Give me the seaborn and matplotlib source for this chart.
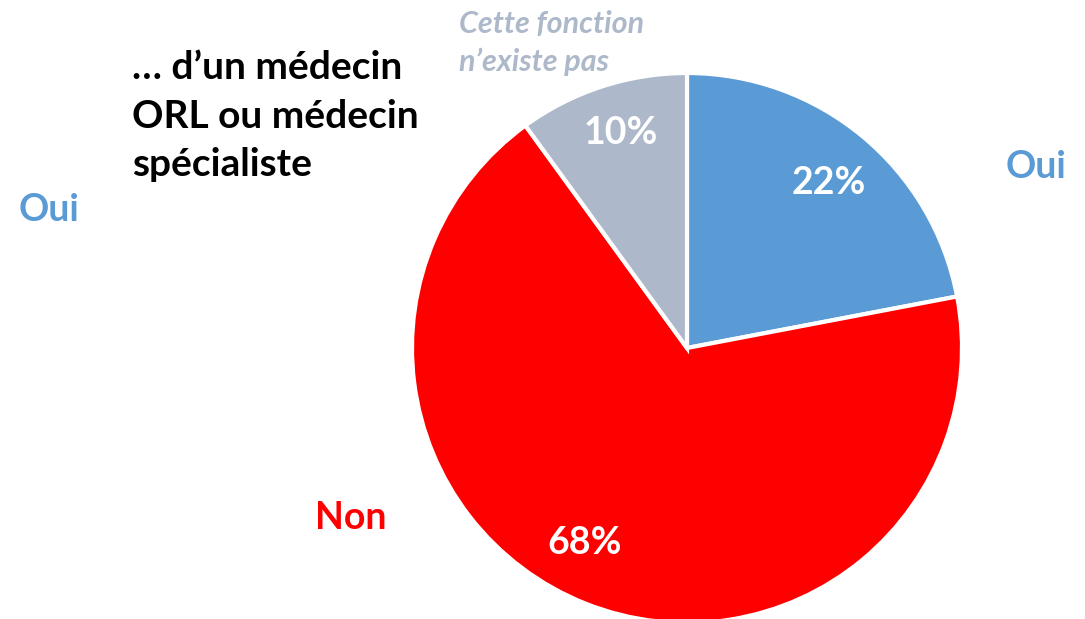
import matplotlib
matplotlib.use("Agg")
import matplotlib.pyplot as plt
import matplotlib.patches as mpatches
import seaborn as sns

categories = ["Oui", "Non", "Cette fonction\nn\u2019existe pas"]
values = [22, 68, 10]
pct_labels = ["22%", "68%", "10%"]
colors = ["#5B9BD5", "#FF0000", "#ADB9CA"]
title = "\u2026 d\u2019un m\u00e9decin\nORL ou m\u00e9decin\nsp\u00e9cialiste"

sns.set_theme(style="white")
plt.rcParams["font.family"] = ["Lato", "DejaVu Sans"]

W, H = 1085, 619
fig = plt.figure(figsize=(W / 100, H / 100), dpi=100)
ax = fig.add_axes([0, 0, 1, 1])

cx, cy, r = 687, 348, 275
wedges, _ = ax.pie(values, colors=colors, startangle=90, counterclock=False,
                   center=(cx, cy), radius=r, frame=True,
                   wedgeprops=dict(edgecolor="white", linewidth=3))
# y-axis is inverted below, so redraw wedges with mirrored angles
for w in wedges:
    w.remove()
start = 90.0
for v, c in zip(values, colors):
    span = 360.0 * v / sum(values)
    ax.add_patch(mpatches.Wedge((cx, cy), r, -start, -start + span, facecolor=c,
                                edgecolor="white", linewidth=3))
    start -= span
ax.set_xlim(0, W)
ax.set_ylim(H, 0)
ax.set_aspect("equal")
ax.axis("off")

# percentage labels
pct_pos = [(829, 183), (585, 543), (621, 133)]
for lab, (x, y) in zip(pct_labels, pct_pos):
    ax.text(x, y, lab, color="white", fontsize=27, fontweight="bold",
            ha="center", va="center")

# category labels
ax.text(1036, 167, categories[0], color=colors[0], fontsize=27, fontweight="bold",
        ha="center", va="center")
ax.text(49, 210, categories[0], color=colors[0], fontsize=27, fontweight="bold",
        ha="center", va="center")
ax.text(351, 518, categories[1], color=colors[1], fontsize=27, fontweight="bold",
        ha="center", va="center")
ax.text(459, 43, categories[2], color=colors[2], fontsize=22, fontweight="bold",
        fontstyle="italic", ha="left", va="center", linespacing=1.42)

ax.text(132, 116, title, color="black", fontsize=28, fontweight="bold",
        ha="left", va="center", linespacing=1.45)

fig.savefig("out.png", dpi=100)
